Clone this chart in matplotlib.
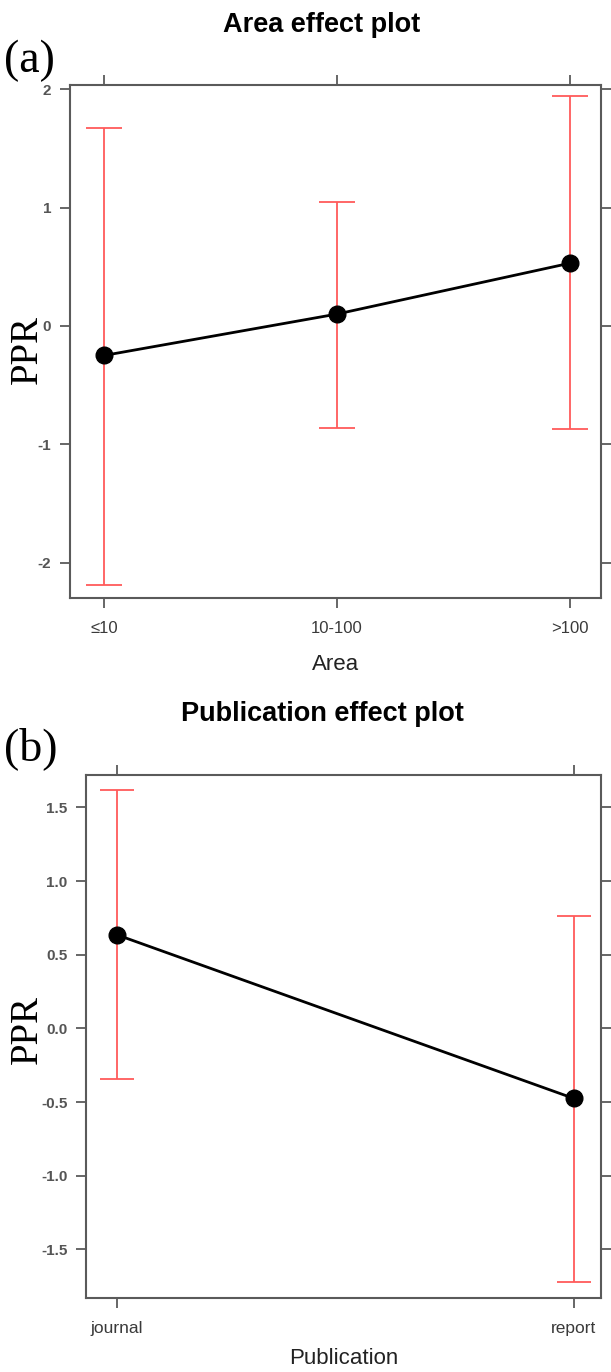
import matplotlib
matplotlib.use("Agg")
import matplotlib.pyplot as plt

# Effect estimates with 95% intervals
area_levels = ["≤10", "10-100", ">100"]
area_fit = [-0.25, 0.10, 0.53]
area_lower = [-2.19, -0.86, -0.87]
area_upper = [1.67, 1.05, 1.94]
area_yticks = [-2, -1, 0, 1, 2]

pub_levels = ["journal", "report"]
pub_fit = [0.635, -0.475]
pub_lower = [-0.345, -1.72]
pub_upper = [1.62, 0.765]
pub_yticks = [-1.5, -1.0, -0.5, 0.0, 0.5, 1.0, 1.5]

W, H = 611, 1372
SANS = ["Liberation Sans", "DejaVu Sans"]
SERIF = ["Liberation Serif", "DejaVu Serif"]
FRAME = "#5a5a5a"
CI_RED = "#ff5a5a"


def px_axes(fig, left, top, right, bottom):
    return fig.add_axes([left / W, 1 - bottom / H, (right - left) / W, (bottom - top) / H])


def effect_panel(ax, levels, fit, lower, upper, yticks, ylim, xlim, ytick_fmt,
                 xlabel, xtick_size, capsize, xlabel_pad):
    x = list(range(len(levels)))
    yerr = [[f - lo for f, lo in zip(fit, lower)], [hi - f for f, hi in zip(fit, upper)]]
    ax.errorbar(x, fit, yerr=yerr, fmt="none", ecolor=CI_RED, elinewidth=1.3,
                capsize=capsize, capthick=1.3, zorder=2)
    ax.plot(x, fit, color="black", lw=2.0, marker="o", ms=12, mfc="black",
            mec="black", zorder=3)
    ax.set_xlim(*xlim)
    ax.set_ylim(*ylim)
    ax.set_xticks(x)
    ax.set_xticklabels(levels, family=SANS, fontsize=xtick_size, color="#3a3a3a")
    ax.set_yticks(yticks)
    ax.set_yticklabels([ytick_fmt.format(v) for v in yticks], family=SANS,
                       fontsize=11, fontweight="bold", color="#555555")
    ax.tick_params(axis="both", direction="out", length=7.5, width=1.3, color=FRAME,
                   top=True, right=True, labeltop=False, labelright=False, pad=6)
    ax.tick_params(axis="x", pad=9)
    for sp in ax.spines.values():
        sp.set_color(FRAME)
        sp.set_linewidth(1.5)
    ax.set_xlabel(xlabel, family=SANS, fontsize=16, color="#222222", labelpad=xlabel_pad)


fig = plt.figure(figsize=(W / 100, H / 100), dpi=100)

ax_a = px_axes(fig, 70, 85, 601, 598)
effect_panel(ax_a, area_levels, area_fit, area_lower, area_upper, area_yticks,
             ylim=(-2.30, 2.036), xlim=(-0.146, 2.133), ytick_fmt="{:g}",
             xlabel="Area", xtick_size=12, capsize=13, xlabel_pad=13)

ax_b = px_axes(fig, 86, 775, 601, 1298)
effect_panel(ax_b, pub_levels, pub_fit, pub_lower, pub_upper, pub_yticks,
             ylim=(-1.83, 1.72), xlim=(-0.068, 1.06), ytick_fmt="{:.1f}",
             xlabel="Publication", xtick_size=12.5, capsize=12.5, xlabel_pad=9)

fig.text(322 / W, 1 - 31.7 / H, "Area effect plot", ha="center", va="baseline",
         family=SANS, fontsize=19.5, fontweight="bold")
fig.text(322 / W, 1 - 721 / H, "Publication effect plot", ha="center", va="baseline",
         family=SANS, fontsize=19.5, fontweight="bold")

fig.text(4 / W, 1 - 61 / H, "(a)", ha="left", va="center", family=SERIF, fontsize=33)
fig.text(4 / W, 1 - 749 / H, "(b)", ha="left", va="center", family=SERIF, fontsize=33)

fig.text(27 / W, 1 - 350 / H, "PPR", ha="center", va="center", rotation=90,
         family=SERIF, fontsize=28)
fig.text(27 / W, 1 - 1030 / H, "PPR", ha="center", va="center", rotation=90,
         family=SERIF, fontsize=28)

fig.savefig("out.png", dpi=100)
